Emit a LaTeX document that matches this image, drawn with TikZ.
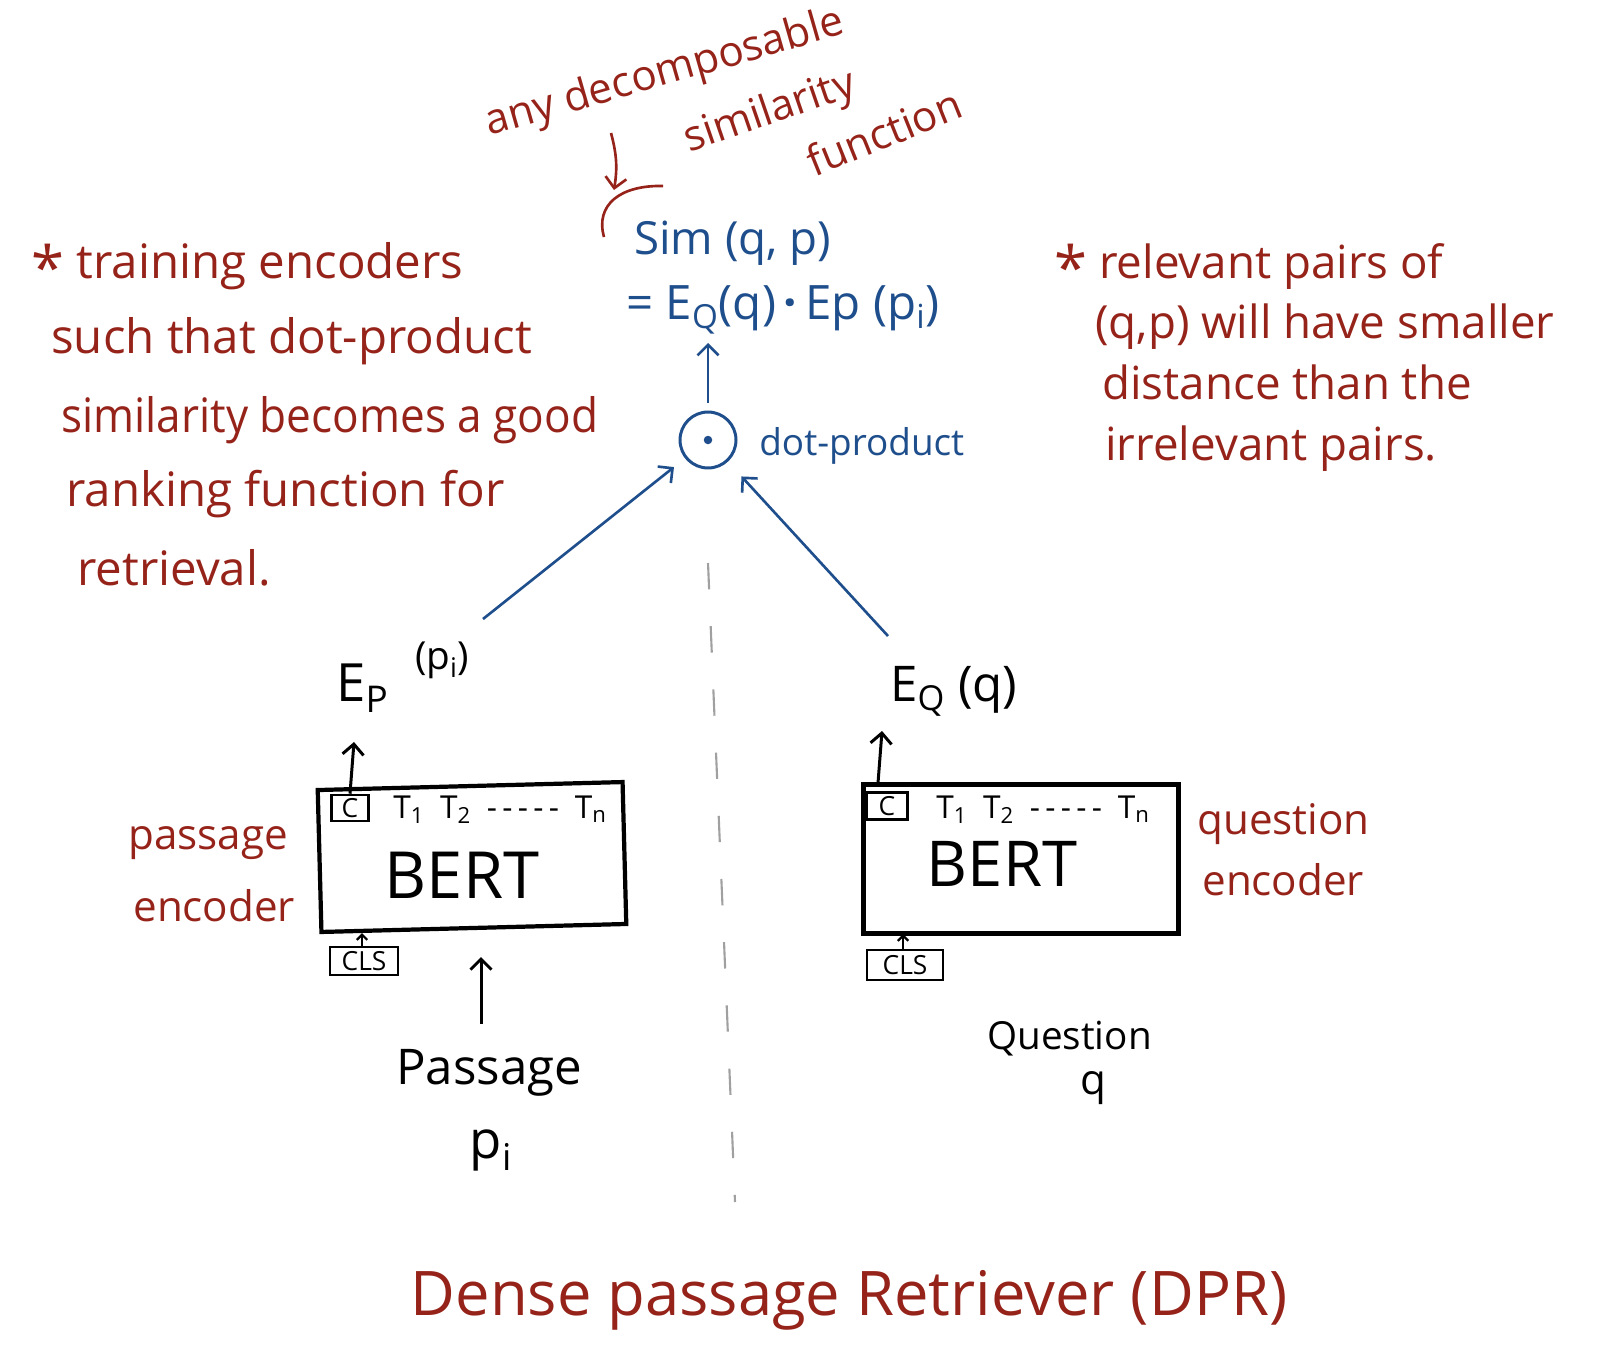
\documentclass[tikz,border=0pt]{standalone}
\usepackage{fontspec}
\setmainfont{Open Sans}
\usetikzlibrary{arrows.meta}
\definecolor{hred}{RGB}{150,35,25}
\definecolor{hblue}{RGB}{30,78,140}
\definecolor{dgray}{RGB}{160,160,160}
\newcommand{\bigstar}{\raisebox{-0.45ex}{\fontsize{34}{34}\selectfont *}}
\tikzset{
  redtxt/.style={text=hred, font=\fontsize{24}{29}\selectfont, inner sep=0pt},
  redline/.style={redtxt, anchor=base west},
  leftline/.style={redline, font=\fontsize{27}{32}\selectfont},
  rightline/.style={redline, font=\fontsize{26}{31}\selectfont},
  bluetxt/.style={text=hblue, font=\fontsize{26}{31}\selectfont, inner sep=0pt, anchor=base west},
  blacktxt/.style={text=black, font=\fontsize{24}{29}\selectfont, inner sep=0pt},
  tlabel/.style={blacktxt, font=\fontsize{18}{20}\selectfont, anchor=base},
  bertbox/.style={draw, line width=2.4pt, inner sep=0pt},
  smallbox/.style={draw, line width=1.5pt, inner sep=0pt, font=\fontsize{15}{17}\selectfont},
  barb/.style={-{Straight Barb[length=6pt,width=12pt]}},
  blk/.style={black, line width=1.7pt, barb},
  blksmall/.style={black, line width=1.3pt, -{Straight Barb[length=3pt,width=6pt]}},
  blu/.style={hblue, line width=1.5pt, barb},
  rdarrow/.style={hred, line width=1.5pt, barb},
  dashline/.style={dgray, line width=1.2pt, dash pattern=on 15pt off 21pt},
}
\begin{document}
\begin{tikzpicture}[x=0.02cm,y=-0.02cm]
\useasboundingbox (0,0) rectangle (1604,1362);

% top red annotation
\node[redtxt, rotate=16] (any) at (665,74) {any decomposable};
\node[redtxt, rotate=19] (simil) at (770,113) {similarity};
\node[redtxt, rotate=22] (func) at (884,132) {function};
\coordinate (ra1) at (611,133);
\coordinate (ra2) at (614,190);
\draw[rdarrow] (ra1) to[bend left=12] (ra2);
\coordinate (arcA) at (604,237);
\coordinate (arcB) at (663,186);
\draw[hred, line width=1.5pt] (arcA) .. controls (595,205) and (620,185) .. (arcB);

% blue formula
\node[bluetxt] (sim) at (634,254) {Sim (q, p)};
\node[bluetxt, font=\fontsize{27}{32}\selectfont] (simeq) at (626,319) {= E\textsubscript{Q}(q)\,{\bfseries·}\,Ep (p\textsubscript{i})};
\node[draw=hblue, circle, line width=1.7pt, minimum size=1.12cm, inner sep=0pt] (dot) at (708,440) {};
\node[circle, fill=hblue, minimum size=0.17cm, inner sep=0pt] (dotc) at (dot.center) {};
\node[bluetxt, font=\fontsize{21}{25}\selectfont] (dp) at (759,455) {dot-product};
\coordinate (simin) at (708,343);
\draw[blu, shorten <=0.16cm] (dot.north) -- (simin);

% left red text
\node[leftline] (l1) at (31,278) {\bigstar\ training encoders};
\node[leftline] (l2) at (51,353) {such that dot-product};
\node[leftline] (l3) at (61,432) {\scalebox{0.93}[1]{similarity becomes a good}};
\node[leftline] (l4) at (66,506) {ranking function for};
\node[leftline] (l5) at (77,585) {retrieval.};

% right red text
\node[rightline] (r1) at (1054,278) {\bigstar\ relevant pairs of};
\node[rightline] (r2) at (1095,338) {(q,p) will have smaller};
\node[rightline] (r3) at (1102,399) {distance than the};
\node[rightline] (r4) at (1105,460) {irrelevant pairs.};

% dashed divider
\coordinate (d1) at (708,563);
\coordinate (d2) at (735,1202);
\draw[dashline] (d1) -- (d2);

% left encoder
\node[bertbox, minimum width=6.1cm, minimum height=2.84cm, rotate=1.5] (bl) at (472,857) {};
\node[smallbox, minimum width=0.74cm, minimum height=0.52cm] (cl) at (350,808) {C};
\node[tlabel] (tl) at (500,818) {T\textsubscript{1}\enspace T\textsubscript{2}\enspace -\,-\,-\,-\,-\enspace T\textsubscript{n}};
\node[blacktxt, font=\fontsize{37}{40}\selectfont, anchor=base] (bertl) at (462,898) {BERT};
\node[smallbox, minimum width=1.36cm, minimum height=0.56cm] (clsl) at (364,961) {CLS};
\draw[blksmall] (clsl.north -| 362,0) -- (362,933);
\node[blacktxt, font=\fontsize{30}{34}\selectfont, anchor=base west] (ep) at (336,701) {E\textsubscript{P}\enspace\raisebox{1.1ex}{\fontsize{22}{24}\selectfont(p\textsubscript{i})}};
\coordinate (epin) at (354,742);
\draw[blk] (cl.north) -- (epin);
\node[redline] (pe1) at (128,849) {passage};
\node[redline] (pe2) at (133,921) {encoder};
\node[blacktxt, font=\fontsize{28}{32}\selectfont, anchor=base west] (pass) at (396,1084) {Passage};
\node[blacktxt, font=\fontsize{30}{32}\selectfont, anchor=base] (pi) at (491,1158) {p\textsubscript{i}};
\coordinate (passin) at (481,957);
\draw[blk, shorten <=0.5cm] (pass.north -| passin) -- (passin);

% right encoder
\node[bertbox, minimum width=6.3cm, minimum height=2.98cm] (br) at (1021,859) {};
\node[smallbox, minimum width=0.82cm, minimum height=0.54cm] (cr) at (887,806) {C};
\node[tlabel] (tr) at (1043,818) {T\textsubscript{1}\enspace T\textsubscript{2}\enspace -\,-\,-\,-\,-\enspace T\textsubscript{n}};
\node[blacktxt, font=\fontsize{36}{40}\selectfont, anchor=base] (bertr) at (1002,886) {BERT};
\node[smallbox, minimum width=1.52cm, minimum height=0.6cm] (clsr) at (905,965) {CLS};
\draw[blksmall] (clsr.north -| 903,0) -- (903,934);
\node[blacktxt, font=\fontsize{28}{32}\selectfont, anchor=base west] (eq) at (890,701) {E\textsubscript{Q} (q)};
\coordinate (eqin) at (882,731);
\draw[blk] (878,783) -- (eqin);
\node[redline] (qe1) at (1197,834) {question};
\node[redline] (qe2) at (1202,895) {encoder};
\node[blacktxt, font=\fontsize{22}{26}\selectfont, anchor=base west] (ques) at (987,1049) {Question};
\node[blacktxt, font=\fontsize{24}{26}\selectfont, anchor=base] (qq) at (1093,1094) {q};

% connectors into the dot-product
\coordinate (epa) at (483,619);
\coordinate (eqa) at (888,636);
\draw[blu, shorten >=0.28cm] (epa) -- (dot);
\draw[blu, shorten >=0.4cm] (eqa) -- (dot);

% title
\node[redtxt, font=\fontsize{35}{40}\selectfont, anchor=base] (title) at (849,1315) {Dense passage Retriever (DPR)};
\end{tikzpicture}
\end{document}
